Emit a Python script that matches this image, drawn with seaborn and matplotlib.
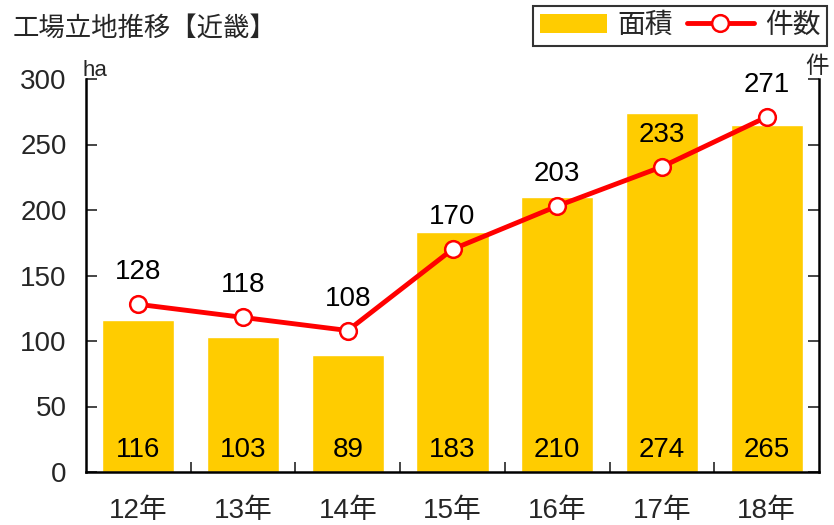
import seaborn as sns
import matplotlib.pyplot as plt
from matplotlib.patches import Patch
from matplotlib.lines import Line2D
from matplotlib.ticker import FixedLocator

# データ
years = ["12年", "13年", "14年", "15年", "16年", "17年", "18年"]
area_ha = [116, 103, 89, 183, 210, 274, 265]   # 面積
counts = [128, 118, 108, 170, 203, 233, 271]   # 件数

sns.set_theme(style="ticks")
plt.rcParams["font.family"] = ["Liberation Sans", "Noto Sans CJK JP", "DejaVu Sans"]

gold = "#FFCC00"
red = "#FF0000"
fs = 20

fig = plt.figure(figsize=(8.34, 5.25), dpi=100)
ax = fig.add_axes([86 / 834, 1 - 472 / 525, (819 - 86) / 834, (472 - 79) / 525])

sns.barplot(x=years, y=area_ha, color=gold, width=0.69, saturation=1, ax=ax)
sns.pointplot(x=years, y=counts, color=red, markers="o", linewidth=3.5,
              markersize=12, markerfacecolor="white", markeredgecolor=red,
              markeredgewidth=1.8, ax=ax)

# 値ラベル
for i, v in enumerate(area_ha):
    ax.text(i, 17, str(v), ha="center", va="center", fontsize=fs, color="black")
for i, v in enumerate(counts):
    ax.annotate(str(v), (i, v), xytext=(0, 23), textcoords="offset points",
                ha="center", va="center", fontsize=fs, color="black")

ax.set_xlim(-0.5, 6.5)
ax.set_ylim(0, 300)
ax.set_yticks(range(0, 301, 50))
ax.tick_params(axis="y", direction="in", length=8, width=1.2, labelsize=fs,
               right=True, pad=14)
ax.tick_params(axis="y", labelright=False)
ax.tick_params(axis="x", which="major", length=0, labelsize=fs, pad=19)
ax.xaxis.set_minor_locator(FixedLocator([0.5, 1.5, 2.5, 3.5, 4.5, 5.5]))
ax.tick_params(axis="x", which="minor", direction="in", length=7, width=1.2, bottom=True)

for side in ["left", "right", "bottom"]:
    ax.spines[side].set_linewidth(1.8)
    ax.spines[side].set_color("black")
ax.spines["top"].set_visible(False)
ax.set_xlabel("")
ax.set_ylabel("")

# 単位
fig.text(83 / 834, 1 - 70 / 525, "ha", fontsize=16, ha="left", va="center")
fig.text(817 / 834, 1 - 67 / 525, "件", fontsize=17, ha="center", va="center")

# タイトル
fig.text(13 / 834, 1 - 28 / 525, "工場立地推移【近畿】", fontsize=19,
         ha="left", va="center")

handles = [
    Patch(facecolor=gold, edgecolor="none"),
    Line2D([0], [0], color=red, linewidth=3.5, marker="o", markersize=12,
           markerfacecolor="white", markeredgecolor=red, markeredgewidth=1.8),
]
leg = fig.legend(handles, ["面積", "件数"], loc="upper left",
                 bbox_to_anchor=(533 / 834, 1 - 6 / 525), ncol=2, fontsize=fs,
                 frameon=True, fancybox=False, edgecolor="black",
                 handlelength=2.4, handletextpad=0.4, columnspacing=0.5,
                 borderpad=0.25, borderaxespad=0)
leg.get_frame().set_linewidth(1.5)

fig.savefig("out.png", dpi=100)
